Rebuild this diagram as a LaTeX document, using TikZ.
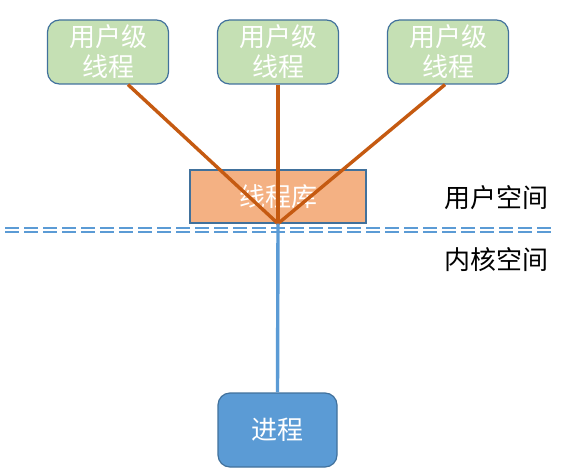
\documentclass[tikz,border=0pt]{standalone}
\usepackage{fontspec}
\setmainfont{Noto Sans CJK SC}
\usetikzlibrary{positioning}
\definecolor{ultCol}{RGB}{197,224,180}
\definecolor{libCol}{RGB}{244,177,131}
\definecolor{procCol}{RGB}{91,155,213}
\definecolor{edgeCol}{RGB}{65,113,156}
\definecolor{linkCol}{RGB}{197,90,17}
\tikzset{myUlt/.style={draw=edgeCol, fill=ultCol, line width=0.6pt, rounded corners=6pt, minimum width=60.5pt, minimum height=32pt, align=center, text=white, font=\fontsize{13}{15}\selectfont, inner sep=0pt}}
\tikzset{myLib/.style={draw=edgeCol, fill=libCol, line width=0.6pt, minimum width=88pt, minimum height=26.5pt, text=white, font=\fontsize{13}{15}\selectfont}}
\tikzset{myProc/.style={draw=edgeCol, fill=procCol, line width=0.6pt, rounded corners=6pt, minimum width=59.5pt, minimum height=37pt, text=white, font=\fontsize{13}{15}\selectfont}}
\tikzset{myLink/.style={color=linkCol, line width=1.7pt}}
\tikzset{mySep/.style={color=procCol, line width=0.9pt, dash pattern=on 7pt off 2.5pt}}
\tikzset{mySpace/.style={anchor=east, font=\fontsize{13}{15}\selectfont}}

\begin{document}
\begin{tikzpicture}[x=0.5pt, y=-0.5pt]
	\useasboundingbox (0,0) rectangle (565,475);

	\foreach \x/\i in {108/1,278/2,448/3}{
		\node[myUlt] (ult\i) at (\x,52) {用户级\\线程};
	}
	\node[myLib] (lib) at (278,196.5) {线程库};
	\node[myProc] (proc) at (277.5,430) {进程};

	\draw[mySep] (5,228)--(553,228);
	\draw[mySep] (5,232)--(553,232);

	\draw[myLink] ([xshift=10pt]ult1.south)--(lib.south);
	\draw[myLink] (ult2.south)--(lib.south);
	\draw[myLink] ([xshift=-1.5pt]ult3.south)--(lib.south);
	\draw[procCol, line width=1.7pt] (lib.south)--(proc.north);

	\node[mySpace] (usr) at (556,198) {用户空间};
	\node[mySpace] (krn) at (556,260) {内核空间};
\end{tikzpicture}
\end{document}
